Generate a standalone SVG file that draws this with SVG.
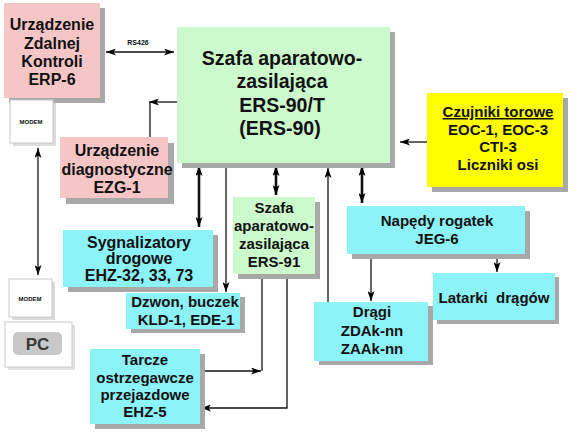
<svg xmlns="http://www.w3.org/2000/svg" width="578" height="434" viewBox="0 0 578 434">
<defs>
<marker id="ah" viewBox="0 0 10 7" refX="10" refY="3.5" markerWidth="10" markerHeight="7" markerUnits="userSpaceOnUse" orient="auto-start-reverse">
<path d="M0,0 L10,3.5 L0,7 L2.5,3.5 z" fill="#000"/>
</marker>
</defs>
<style>
text{font-family:"Liberation Sans",Arial,sans-serif;font-weight:bold;fill:#111;text-anchor:middle}
.sh{fill:#a8a8a8}
.pink{fill:#f6c5c5}
.green{fill:#ccfacc}
.cyan{fill:#8cf3f8}
.yellow{fill:#ffff00}
.thin{fill:none;stroke:#111;stroke-width:1.3}
.thick{fill:none;stroke:#111;stroke-width:2.6}
.t15{font-size:15px}
.t16{font-size:16px}
.t19{font-size:19.5px}
</style>
<rect width="578" height="434" fill="#fff"/>

<g id="connectors">
<path class="thin" d="M106,52 H174" marker-start="url(#ah)" marker-end="url(#ah)"/>
<path class="thin" d="M177,102 H149" marker-end="url(#ah)"/>
<path class="thin" d="M150,102 V137"/>
<path class="thin" d="M38,148 V275" marker-start="url(#ah)" marker-end="url(#ah)"/>
<path class="thin" d="M427,142 H400" marker-end="url(#ah)"/>
<path class="thick" d="M199,166 V227" marker-start="url(#ah)" marker-end="url(#ah)"/>
<path class="thin" d="M226,167 V292" marker-end="url(#ah)"/>
<path class="thick" d="M276,166 V195" marker-start="url(#ah)" marker-end="url(#ah)"/>
<path class="thin" d="M328,302 V168" marker-end="url(#ah)"/>
<path class="thick" d="M362,166 V203" marker-start="url(#ah)" marker-end="url(#ah)"/>
<path class="thin" d="M262,279 V371"/>
<path class="thin" d="M200,371 H261" marker-end="url(#ah)"/>
<path class="thin" d="M287,279 V408 H201" marker-end="url(#ah)"/>
<path class="thin" d="M371,259 V301" marker-end="url(#ah)"/>
<path class="thin" d="M497,259 V272" marker-end="url(#ah)"/>
</g>

<g id="label-rs">
<text x="138" y="45" style="font-size:7px">RS426</text>
</g>

<g id="erp6">
<rect class="sh" x="9" y="8" width="96" height="95"/>
<rect class="pink" x="4" y="3" width="96" height="95"/>
<text class="t16" x="52" y="30">Urządzenie</text>
<text class="t16" x="52" y="49">Zdalnej</text>
<text class="t16" x="52" y="67">Kontroli</text>
<text class="t16" x="52" y="85">ERP-6</text>
</g>

<g id="modem1">
<rect x="13" y="103" width="43" height="43" fill="#dcdcdc"/>
<rect x="10" y="100" width="43" height="43" fill="#fff" stroke="#c8c8c8" stroke-width="1"/>
<text x="31" y="124" style="font-size:6px">MODEM</text>
</g>

<g id="main">
<rect class="sh" x="182" y="32" width="213" height="136"/>
<rect class="green" x="177" y="27" width="213" height="136"/>
<text class="t19" x="282" y="65">Szafa aparatowo-</text>
<text class="t19" x="282" y="88">zasilająca</text>
<text class="t19" x="282" y="112">ERS-90/T</text>
<text class="t19" x="280" y="135">(ERS-90)</text>
</g>

<g id="czujniki">
<rect class="sh" x="432" y="98" width="136" height="94"/>
<rect class="yellow" x="427" y="93" width="136" height="94"/>
<text class="t15" x="498" y="117" text-decoration="underline">Czujniki torowe</text>
<text class="t15" x="498" y="135">EOC-1, EOC-3</text>
<text class="t15" x="498" y="152">CTI-3</text>
<text class="t15" x="498" y="170">Liczniki osi</text>
</g>

<g id="ezg1">
<rect class="sh" x="66" y="143" width="108" height="61"/>
<rect class="pink" x="60" y="137" width="108" height="61"/>
<text class="t16" x="117" y="156">Urządzenie</text>
<text class="t16" x="117" y="175">diagnostyczne</text>
<text class="t16" x="117" y="193">EZG-1</text>
</g>

<g id="ers91">
<rect class="sh" x="238" y="202" width="82" height="77"/>
<rect class="green" x="233" y="197" width="82" height="77"/>
<text class="t15" x="274" y="213">Szafa</text>
<text class="t15" x="274" y="231">aparatowo-</text>
<text class="t15" x="274" y="249">zasilająca</text>
<text class="t15" x="274" y="267">ERS-91</text>
</g>

<g id="sygnalizatory">
<rect class="sh" x="68" y="235" width="150" height="57"/>
<rect class="cyan" x="63" y="230" width="150" height="57"/>
<text class="t16" x="139" y="248">Sygnalizatory</text>
<text class="t16" x="139" y="264">drogowe</text>
<text class="t16" x="139" y="281">EHZ-32, 33, 73</text>
</g>

<g id="dzwon">
<rect class="sh" x="131" y="297" width="114" height="36"/>
<rect class="cyan" x="126" y="293" width="114" height="36"/>
<text class="t15" x="185" y="307">Dzwon, buczek</text>
<text class="t15" x="186" y="325">KLD-1, EDE-1</text>
</g>

<g id="tarcze">
<rect class="sh" x="95" y="354" width="110" height="75"/>
<rect class="cyan" x="90" y="349" width="110" height="75"/>
<text class="t15" x="145" y="365">Tarcze</text>
<text class="t15" x="145" y="383">ostrzegawcze</text>
<text class="t15" x="145" y="400">przejazdowe</text>
<text class="t15" x="145" y="417">EHZ-5</text>
</g>

<g id="napedy">
<rect class="sh" x="352" y="211" width="178" height="48"/>
<rect class="cyan" x="347" y="206" width="178" height="48"/>
<text class="t15" x="437" y="226">Napędy rogatek</text>
<text class="t15" x="437" y="244">JEG-6</text>
</g>

<g id="dragi">
<rect class="sh" x="319" y="306" width="114" height="59"/>
<rect class="cyan" x="314" y="302" width="114" height="59"/>
<text class="t15" x="372" y="317">Drągi</text>
<text class="t15" x="372" y="336">ZDAk-nn</text>
<text class="t15" x="372" y="354">ZAAk-nn</text>
</g>

<g id="latarki">
<rect class="sh" x="437" y="277" width="122" height="47"/>
<rect class="cyan" x="433" y="273" width="122" height="47"/>
<text class="t15" x="494" y="303" style="white-space:pre">Latarki  drągów</text>
</g>

<g id="modem2">
<rect x="12" y="282" width="43" height="38" fill="#dcdcdc"/>
<rect x="9" y="279" width="43" height="38" fill="#fff" stroke="#c8c8c8" stroke-width="1"/>
<text x="30" y="301" style="font-size:6px">MODEM</text>
</g>

<g id="pc">
<rect x="8" y="325" width="67" height="45" fill="#e2e2e2"/>
<rect x="5" y="322" width="67" height="45" fill="#fff" stroke="#c8c8c8" stroke-width="1"/>
<rect x="13" y="332" width="49" height="23" rx="5" fill="#c8c8c8"/>
<text x="37.5" y="350" style="font-size:17px;fill:#3a3a3a">PC</text>
</g>
</svg>
